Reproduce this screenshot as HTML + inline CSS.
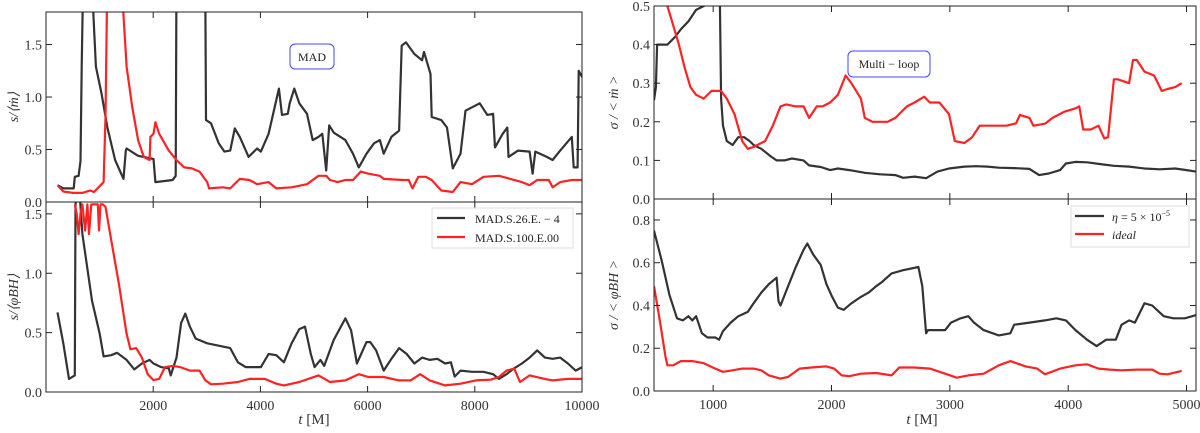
<!DOCTYPE html>
<html><head><meta charset="utf-8"><style>
body{margin:0;background:#fff;}
svg{display:block;font-family:"Liberation Serif",serif;}
</style></head><body>
<svg id="chart" width="1200" height="433" viewBox="0 0 1200 433" xmlns="http://www.w3.org/2000/svg"></svg>
<script>
// ---- data (t in M, values) ----
const ltBlackT=[215,322,516,537,609,644,666,695,845,931,1038,1146,1289,1446,1489,1504,1718,2005,2041,2363,2420,2434,2971,2986,3079,3222,3329,3437,3523,3616,3780,3938,4010,4153,4346,4403,4511,4547,4633,4726,4869,4976,5084,5155,5227,5284,5370,5585,5728,5835,5979,6122,6229,6301,6444,6587,6637,6716,6874,7017,7053,7174,7196,7375,7482,7590,7733,7826,8091,8234,8341,8377,8520,8606,8628,8807,9022,9079,9129,9344,9451,9594,9809,9845,9917,9938,10003];
const ltBlackV=[0.16,0.13,0.13,0.24,0.25,0.39,1.29,2.2,2.2,1.29,1.03,0.71,0.40,0.22,0.49,0.51,0.44,0.41,0.19,0.21,0.25,2.2,2.2,0.78,0.75,0.56,0.48,0.49,0.70,0.62,0.43,0.51,0.48,0.65,1.08,0.83,0.84,0.94,1.08,0.94,0.84,0.59,0.62,0.65,0.30,0.73,0.66,0.59,0.46,0.33,0.46,0.56,0.59,0.46,0.62,0.68,1.49,1.52,1.41,1.35,1.43,1.22,0.81,0.78,0.71,0.32,0.46,0.87,0.94,0.83,0.84,0.52,0.65,0.71,0.43,0.49,0.48,0.27,0.48,0.43,0.40,0.49,0.62,0.33,0.33,1.25,1.19];
const ltRedT=[215,322,501,680,823,895,1038,1074,1110,1146,1396,1504,1611,1718,1825,1933,1947,2005,2041,2112,2291,2434,2578,2721,2864,3007,3043,3294,3437,3616,3795,3938,4153,4296,4582,4869,5084,5227,5298,5442,5585,5728,5871,6014,6229,6301,6659,6766,6838,6945,7088,7196,7375,7590,7733,7948,8163,8449,8664,8878,9022,9165,9380,9451,9594,9809,10003];
const ltRedV=[0.16,0.10,0.087,0.087,0.11,0.095,0.17,0.19,0.81,2.2,2.2,1.29,0.90,0.59,0.43,0.40,0.62,0.65,0.76,0.65,0.49,0.40,0.33,0.32,0.29,0.19,0.13,0.14,0.13,0.22,0.21,0.17,0.19,0.13,0.14,0.17,0.25,0.25,0.21,0.19,0.21,0.21,0.29,0.27,0.25,0.22,0.21,0.21,0.13,0.24,0.24,0.21,0.11,0.095,0.19,0.17,0.24,0.25,0.22,0.19,0.16,0.21,0.21,0.14,0.19,0.21,0.21];
const lbBlackT=[215,322,430,501,537,551,609,680,859,1002,1074,1217,1325,1504,1647,1790,1933,2005,2148,2291,2327,2434,2520,2599,2685,2792,3007,3222,3437,3580,3723,4010,4153,4296,4439,4582,4726,4833,4940,5012,5119,5191,5370,5585,5692,5800,5979,6050,6158,6301,6444,6587,6730,6874,7017,7160,7303,7446,7554,7625,7733,7948,8163,8341,8449,8592,8735,8878,9022,9165,9308,9451,9594,9737,9881,10003];
const lbBlackV=[0.67,0.41,0.11,0.13,0.14,1.58,1.8,1.33,0.77,0.49,0.30,0.31,0.33,0.27,0.19,0.24,0.27,0.24,0.21,0.20,0.14,0.29,0.58,0.66,0.55,0.45,0.41,0.39,0.37,0.25,0.21,0.21,0.32,0.31,0.25,0.41,0.53,0.55,0.32,0.21,0.27,0.22,0.44,0.62,0.52,0.24,0.42,0.42,0.35,0.18,0.28,0.37,0.32,0.24,0.29,0.27,0.28,0.24,0.25,0.13,0.18,0.17,0.17,0.15,0.11,0.15,0.20,0.24,0.29,0.35,0.29,0.28,0.29,0.24,0.18,0.21];
const lbRedT=[537,573,609,644,680,730,773,802,845,967,988,1017,1060,1110,1217,1360,1504,1575,1683,1790,1897,2005,2112,2220,2363,2506,2685,2864,2971,3079,3294,3580,3795,4081,4296,4439,4726,5084,5298,5585,5835,6014,6301,6587,6802,6981,7160,7446,7733,8019,8306,8449,8592,8735,8843,9022,9308,9451,9737,10003];
const lbRedV=[1.58,1.50,1.33,1.50,1.58,1.36,1.58,1.33,1.58,1.58,1.36,1.58,1.58,1.56,1.28,0.91,0.49,0.36,0.37,0.29,0.15,0.10,0.11,0.21,0.22,0.21,0.18,0.18,0.10,0.065,0.07,0.084,0.11,0.11,0.07,0.056,0.084,0.14,0.084,0.098,0.15,0.126,0.126,0.098,0.098,0.15,0.098,0.056,0.07,0.098,0.104,0.126,0.18,0.197,0.084,0.14,0.11,0.098,0.11,0.11];
const rtBlackT=[500,516,526,549,613,678,727,791,856,921,986,1057,1067,1083,1115,1164,1212,1261,1309,1342,1407,1488,1536,1601,1666,1763,1811,1909,1989,2054,2151,2281,2410,2540,2605,2702,2799,2896,2993,3123,3220,3317,3414,3544,3673,3754,3835,3932,3981,4062,4159,4256,4386,4515,4645,4774,4904,5000,5082];
const rtBlackV=[0.256,0.29,0.40,0.40,0.40,0.42,0.44,0.46,0.49,0.50,0.51,0.51,0.26,0.19,0.15,0.14,0.16,0.16,0.15,0.14,0.13,0.11,0.10,0.10,0.105,0.10,0.087,0.083,0.075,0.079,0.075,0.068,0.064,0.062,0.055,0.058,0.054,0.071,0.079,0.084,0.085,0.084,0.081,0.080,0.078,0.062,0.066,0.075,0.092,0.096,0.095,0.091,0.086,0.084,0.079,0.077,0.079,0.075,0.071];
const rtRedT=[613,662,710,759,808,856,921,986,1067,1115,1180,1245,1293,1342,1439,1504,1569,1617,1698,1763,1811,1876,1925,1989,2054,2119,2168,2248,2281,2346,2475,2540,2637,2702,2783,2831,2912,2993,3042,3123,3188,3252,3349,3479,3560,3592,3673,3706,3803,3868,3965,4062,4094,4127,4191,4256,4305,4337,4386,4418,4515,4548,4580,4645,4726,4790,4839,4904,4959];
const rtRedV=[0.50,0.45,0.40,0.34,0.29,0.27,0.26,0.28,0.28,0.26,0.22,0.15,0.13,0.135,0.15,0.19,0.24,0.245,0.24,0.24,0.21,0.24,0.24,0.25,0.27,0.32,0.30,0.26,0.21,0.20,0.20,0.21,0.24,0.25,0.265,0.25,0.25,0.22,0.15,0.145,0.16,0.19,0.19,0.19,0.196,0.218,0.21,0.19,0.195,0.21,0.226,0.235,0.24,0.18,0.18,0.19,0.157,0.16,0.31,0.31,0.30,0.36,0.36,0.33,0.32,0.28,0.285,0.29,0.30];
const rbBlackT=[500,565,630,694,743,791,824,856,905,953,1018,1050,1083,1148,1212,1293,1342,1407,1471,1536,1552,1569,1633,1698,1763,1795,1844,1909,1957,2006,2054,2103,2168,2248,2313,2378,2427,2508,2605,2734,2767,2799,2815,2864,2961,3010,3091,3156,3204,3285,3414,3511,3544,3673,3803,3900,3981,4062,4159,4240,4321,4402,4451,4515,4564,4645,4710,4807,4888,4985,5082];
const rbBlackV=[0.75,0.61,0.45,0.34,0.33,0.35,0.33,0.35,0.27,0.25,0.25,0.24,0.28,0.32,0.35,0.37,0.41,0.46,0.50,0.53,0.42,0.40,0.49,0.58,0.66,0.69,0.64,0.59,0.50,0.44,0.39,0.38,0.41,0.44,0.46,0.49,0.51,0.55,0.565,0.58,0.49,0.27,0.285,0.285,0.285,0.32,0.34,0.35,0.32,0.285,0.26,0.27,0.31,0.32,0.33,0.34,0.33,0.285,0.24,0.21,0.24,0.24,0.31,0.33,0.32,0.41,0.40,0.35,0.34,0.34,0.355];
const rbRedT=[500,549,597,613,662,727,824,921,1018,1083,1164,1245,1342,1407,1471,1569,1633,1730,1828,1957,2022,2087,2151,2248,2378,2508,2572,2702,2831,2961,3058,3156,3285,3414,3511,3641,3738,3803,3932,4062,4159,4256,4353,4451,4580,4710,4774,4839,4959];
const rbRedV=[0.49,0.33,0.16,0.12,0.12,0.14,0.14,0.13,0.105,0.09,0.097,0.105,0.105,0.097,0.073,0.058,0.066,0.105,0.11,0.115,0.105,0.073,0.069,0.081,0.084,0.073,0.11,0.11,0.105,0.081,0.062,0.073,0.081,0.12,0.14,0.115,0.105,0.078,0.105,0.12,0.125,0.105,0.1,0.097,0.1,0.1,0.081,0.078,0.094];
const leftXTicks=[2000,4000,6000,8000,10000];
const rightXTicks=[1000,2000,3000,4000,5000];
const ltYTicks=[0.0,0.5,1.0,1.5];
const lbYTicks=[0.0,0.5,1.0,1.5];
const rtYTicks=[0.0,0.1,0.2,0.3,0.4,0.5];
const rbYTicks=[0.0,0.2,0.4,0.6,0.8];

const NS="http://www.w3.org/2000/svg";
const svg=document.getElementById('chart');
function mk(tag,attrs,parent){const e=document.createElementNS(NS,tag);for(const k in attrs)e.setAttribute(k,attrs[k]);(parent||svg).appendChild(e);return e;}
let clipId=0;
function panel(name,x0,x1,y0,y1,xd,yd,yTicks,xTicks,showX,series,ylab,ylabX){
  const sx=t=>x0+(t-xd[0])/(xd[1]-xd[0])*(x1-x0);
  const sy=v=>y1-(v-yd[0])/(yd[1]-yd[0])*(y1-y0);
  const g=mk('g',{});
  
  
  const cid='c'+(clipId++);
  const cp=mk('clipPath',{id:cid},g);mk('rect',{x:x0,y:y0,width:x1-x0,height:y1-y0},cp);
  series.forEach(s=>{
    const d=s.t.map((t,i)=>(i?'L':'M')+sx(t).toFixed(1)+','+sy(s.v[i]).toFixed(1)).join('');
    const p=mk('path',{d:d,fill:'none',stroke:s.c,'stroke-width':2.2,'stroke-linejoin':'round','clip-path':'url(#'+cid+')'},g);
    
    
  });
  mk('rect',{x:x0,y:y0,width:x1-x0,height:y1-y0,fill:'none',stroke:'#222','stroke-width':1},g);
  yTicks.forEach(v=>{const y=sy(v);
    mk('line',{x1:x0,x2:x0+6,y1:y,y2:y,stroke:'#222'},g);
    mk('line',{x1:x1,x2:x1-6,y1:y,y2:y,stroke:'#222'},g);
    const tx=mk('text',{x:x0-4,y:y+5,'text-anchor':'end','font-size':14,fill:'#333'},g);tx.textContent=v.toFixed(1);
    
    
  });
  xTicks.forEach(t=>{const x=sx(t);
    mk('line',{x1:x,x2:x,y1:y1,y2:y1-6,stroke:'#222'},g);
    mk('line',{x1:x,x2:x,y1:y0,y2:y0+6,stroke:'#222'},g);
    if(showX){const tx=mk('text',{x:x,y:y1+18,'text-anchor':'middle','font-size':14,fill:'#333'},g);tx.textContent=t;
      
      }
  });
  const yl=mk('text',{transform:'translate('+ylabX+','+((y0+y1)/2)+') rotate(-90)','text-anchor':'middle','font-size':14,'font-style':'italic',fill:'#333'},g);
  yl.textContent=ylab;
  
  
}
panel('left-top-panel',46,582,12,202,[0,10000],[0,1.81],ltYTicks,leftXTicks,false,[{t:ltBlackT,v:ltBlackV,c:'#333',n:'black-series'},{t:ltRedT,v:ltRedV,c:'#f22',n:'red-series'}],'s/⟨ṁ⟩',18);
panel('left-bottom-panel',46,582,202,392,[0,10000],[0,1.6],lbYTicks,leftXTicks,true,[{t:lbBlackT,v:lbBlackV,c:'#333',n:'black-series'},{t:lbRedT,v:lbRedV,c:'#f22',n:'red-series'}],'s/⟨φBH⟩',18);
panel('right-top-panel',654,1196,6,199,[500,5080],[0,0.5],rtYTicks,rightXTicks,false,[{t:rtBlackT,v:rtBlackV,c:'#333',n:'black-series'},{t:rtRedT,v:rtRedV,c:'#f22',n:'red-series'}],'σ / < ṁ >',618);
panel('right-bottom-panel',654,1196,199,391,[500,5080],[0,0.898],rbYTicks,rightXTicks,true,[{t:rbBlackT,v:rbBlackV,c:'#333',n:'black-series'},{t:rbRedT,v:rbRedV,c:'#f22',n:'red-series'}],'σ / < φBH >',618);
</script>
<svg width="1200" height="433" style="position:absolute;left:0;top:0">
<text x="314" y="424" text-anchor="middle" font-size="15" fill="#333" font-family="Liberation Serif,serif"><tspan font-style="italic">t</tspan> [M]</text>
<text x="922" y="424" text-anchor="middle" font-size="15" fill="#333" font-family="Liberation Serif,serif"><tspan font-style="italic">t</tspan> [M]</text>
<g><rect x="290" y="44" width="44" height="25" rx="5" fill="#fff" stroke="#44f"/><text x="312" y="61" text-anchor="middle" font-size="12" font-family="Liberation Serif,serif" fill="#222">MAD</text></g>
<g><rect x="848" y="51" width="82" height="26" rx="5" fill="#fff" stroke="#44f"/><text x="889" y="68" text-anchor="middle" font-size="12" font-family="Liberation Serif,serif" fill="#222">Multi − loop</text></g>
<g><rect x="432" y="208" width="141" height="40" fill="#fff" stroke="#ddd"/>
<line x1="437" y1="218" x2="465" y2="218" stroke="#333" stroke-width="2.2"/><text x="475" y="223" font-size="12" font-family="Liberation Serif,serif" fill="#222">MAD.S.26.E. − 4</text>
<line x1="437" y1="237" x2="465" y2="237" stroke="#f22" stroke-width="2.2"/><text x="475" y="242" font-size="12" font-family="Liberation Serif,serif" fill="#222">MAD.S.100.E.00</text></g>
<g><rect x="1071" y="206" width="118" height="41" fill="#fff" stroke="#ddd"/>
<line x1="1075" y1="216" x2="1104" y2="216" stroke="#333" stroke-width="2.2"/><text x="1112" y="221" font-size="12" font-family="Liberation Serif,serif" fill="#222"><tspan font-style="italic">η</tspan> = 5 × 10<tspan dy="-5" font-size="8">−5</tspan></text>
<line x1="1075" y1="234" x2="1104" y2="234" stroke="#f22" stroke-width="2.2"/><text x="1112" y="239" font-size="12" font-style="italic" font-family="Liberation Serif,serif" fill="#222">ideal</text></g>
</svg>
</body></html>
